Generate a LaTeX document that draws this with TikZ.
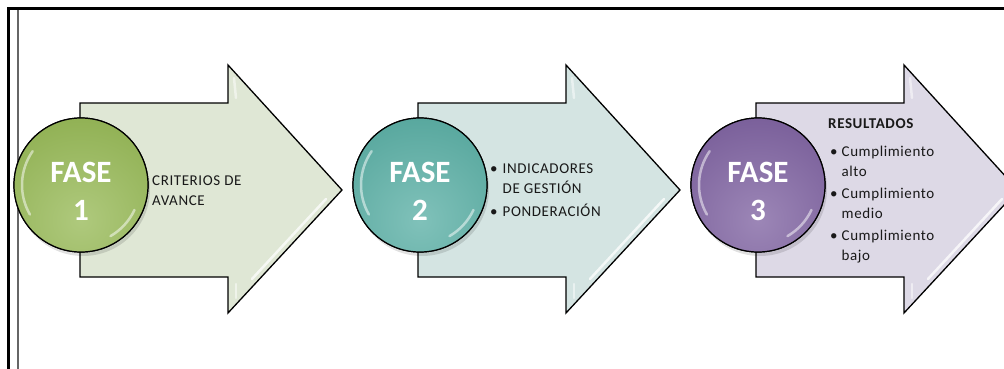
\documentclass[tikz,border=0pt]{standalone}
\usepackage{fontspec}
\setmainfont{Carlito}
\newfontfamily\bodyfont[LetterSpace=4]{Carlito}
\definecolor{arrowA}{RGB}{223,231,213}
\definecolor{circA}{RGB}{152,186,88}
\definecolor{arrowB}{RGB}{212,228,226}
\definecolor{circB}{RGB}{92,176,166}
\definecolor{arrowC}{RGB}{221,217,230}
\definecolor{circC}{RGB}{128,100,162}
\definecolor{txt}{RGB}{25,25,25}
\tikzset{
  phasearrow/.style={draw=black, line width=1.3pt, line join=miter},
  phasecirc/.style={circle, minimum size=134pt, inner sep=0pt, draw=black, line width=1.2pt},
  fasetext/.style={text=white, font=\fontsize{31}{38}\selectfont\bfseries, anchor=base, inner sep=0pt},
  bodytext/.style={text=txt, font=\bodyfont\fontsize{15}{19.5}\selectfont, anchor=base west, inner sep=0pt},
  gloss/.style={white, opacity=0.75, line width=2.5pt, line cap=round},
  framedark/.style={black, line width=2.2pt},
  framegray/.style={black!60, line width=1.5pt},
}
\newcommand\phasearrowshape[2]{%
  \begin{scope}[xshift=#1]
    \draw[phasearrow, fill=#2] (80,103) -- (228,103) -- (228,65) -- (342,190)
      -- (228,313) -- (228,277) -- (80,277) -- cycle;
    \draw[gloss] (326,199) -- (252,279);
    \draw[gloss, opacity=0.5] (234,78) -- (236,98);
    \draw[gloss, opacity=0.5] (236,284) -- (236,298);
  \end{scope}}
\newcommand\phasecircle[3]{% name, x, colour
  \fill[black, opacity=0.12] (#2+2,189) circle (67);
  \node[phasecirc, fill=#3] (#1) at (#2,185) {};
  \begin{scope}
    \clip (#1.center) circle (67);
    \shade[inner color=#3!78!white, outer color=#3!95!black] (#2,220) circle (105);
  \end{scope}
  \draw[black, line width=1.2pt] (#1.center) circle (67);
  \draw[gloss, opacity=0.5] ([shift={(215:59)}]#1.center) arc[start angle=215, end angle=150, radius=59];
  \draw[gloss, opacity=0.5] ([shift={(25:59)}]#1.center) arc[start angle=25, end angle=60, radius=59];
}
\begin{document}
\begin{tikzpicture}[x=1pt, y=-1pt]
  \useasboundingbox (0,0) rectangle (1004,369);
  \clip (0,0) rectangle (1004,369);
  \fill[white] (0,0) rectangle (1004,369);
  % frame
  \coordinate (ftl) at (8.5,8.5);
  \coordinate (ftr) at (1004,8.5);
  \coordinate (fbl) at (8.5,369);
  \coordinate (gtop) at (18,10);
  \coordinate (gbot) at (18,369);
  \draw[framegray] (gtop) -- (gbot);
  \draw[framedark] (fbl) -- (ftl) -- (ftr);
  % arrows
  \phasearrowshape{0pt}{arrowA}
  \phasearrowshape{338pt}{arrowB}
  \phasearrowshape{676pt}{arrowC}
  % circles
  \phasecircle{c1}{81}{circA}
  \phasecircle{c2}{420}{circB}
  \phasecircle{c3}{758}{circC}
  \node[fasetext] (f1) at ([yshift=3pt]c1.center) {\begin{tabular}[t]{@{}c@{}}FASE\\1\end{tabular}};
  \node[fasetext] (f2) at ([yshift=3pt]c2.center) {\begin{tabular}[t]{@{}c@{}}FASE\\2\end{tabular}};
  \node[fasetext] (f3) at ([yshift=3pt]c3.center) {\begin{tabular}[t]{@{}c@{}}FASE\\3\end{tabular}};
  % texts
  \node[bodytext] (t1) at (152,185) {\begin{tabular}[t]{@{}l@{}}CRITERIOS DE\\[1pt]AVANCE\end{tabular}};
  \node[bodytext] (t2) at (490,173) {\begin{tabular}[t]{@{}l@{\hspace{5pt}}l@{}}\textbullet & INDICADORES\\[1pt] & DE GESTIÓN\\[3pt]\textbullet & PONDERACIÓN\end{tabular}};
  \node[bodytext] (t3) at (828,128) {\begin{tabular}[t]{@{}l@{\hspace{4pt}}l@{}}\multicolumn{2}{@{}l@{}}{\bfseries RESULTADOS}\\[9pt]
    \hspace{2pt}\textbullet & Cumplimiento\\ & alto\\[3pt]
    \hspace{2pt}\textbullet & Cumplimiento\\ & medio\\[3pt]
    \hspace{2pt}\textbullet & Cumplimiento\\ & bajo\end{tabular}};
\end{tikzpicture}
\end{document}
